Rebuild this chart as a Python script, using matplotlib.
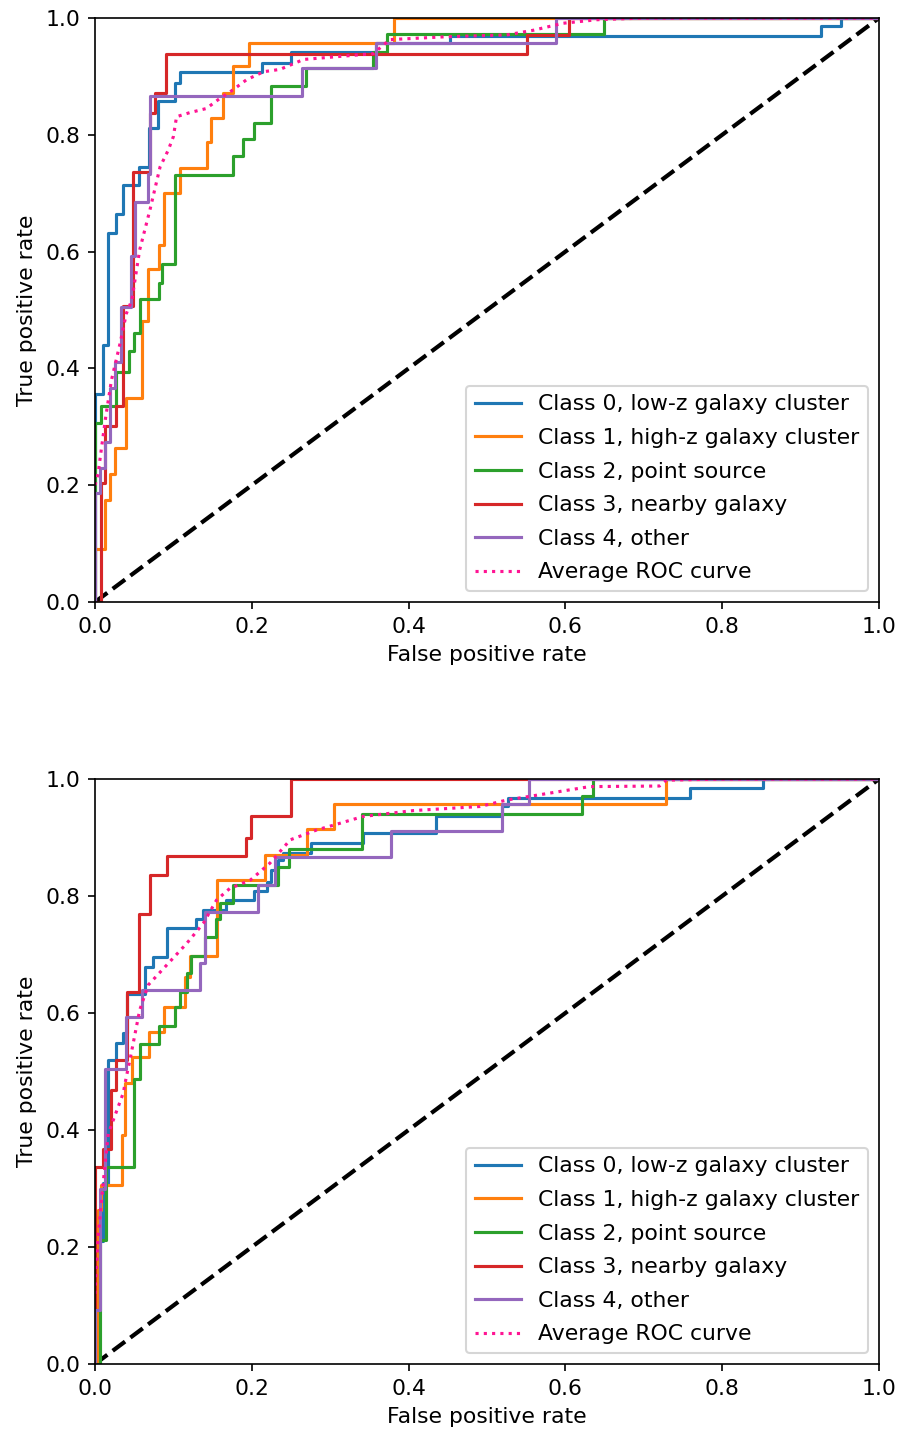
import matplotlib
matplotlib.use('Agg')
import matplotlib.pyplot as plt

plt.rcParams['font.size'] = 10.5

# legend labels and colours of the classes
labels = ['Class 0, low-z galaxy cluster', 'Class 1, high-z galaxy cluster',
          'Class 2, point source', 'Class 3, nearby galaxy', 'Class 4, other']
colors = ['C0', 'C1', 'C2', 'C3', 'C4']

# ---- top panel: ROC corner points (fpr, tpr) ----
top_fpr = [
    [0, 0, 0.010, 0.010, 0.017, 0.017, 0.027, 0.027, 0.036, 0.036, 0.056, 0.056, 0.069, 0.069,
     0.080, 0.080, 0.102, 0.102, 0.108, 0.108, 0.213, 0.213, 0.250, 0.250, 0.359, 0.359,
     0.453, 0.453, 0.926, 0.926, 0.952, 0.952, 1.0],
    [0, 0, 0.013, 0.013, 0.019, 0.019, 0.025, 0.025, 0.040, 0.040, 0.060, 0.060, 0.068, 0.068,
     0.081, 0.081, 0.088, 0.088, 0.108, 0.108, 0.143, 0.143, 0.148, 0.148, 0.163, 0.163,
     0.176, 0.176, 0.197, 0.197, 0.381, 0.381, 1.0],
    [0, 0, 0.008, 0.008, 0.027, 0.027, 0.043, 0.043, 0.050, 0.050, 0.058, 0.058, 0.081, 0.081,
     0.086, 0.086, 0.102, 0.102, 0.176, 0.176, 0.189, 0.189, 0.203, 0.203, 0.225, 0.225,
     0.269, 0.269, 0.355, 0.355, 0.372, 0.372, 0.649, 0.649, 1.0],
    [0, 0.008, 0.008, 0.013, 0.013, 0.027, 0.027, 0.036, 0.036, 0.049, 0.049, 0.070, 0.070,
     0.077, 0.077, 0.091, 0.091, 0.551, 0.551, 0.605, 0.605, 1.0],
    [0, 0, 0.006, 0.006, 0.013, 0.013, 0.019, 0.019, 0.026, 0.026, 0.033, 0.033, 0.046, 0.046,
     0.051, 0.051, 0.068, 0.068, 0.070, 0.070, 0.264, 0.264, 0.358, 0.358, 0.588, 0.588, 1.0],
]
top_tpr = [
    [0, 0.356, 0.356, 0.440, 0.440, 0.631, 0.631, 0.664, 0.664, 0.714, 0.714, 0.745, 0.745, 0.812,
     0.812, 0.858, 0.858, 0.889, 0.889, 0.908, 0.908, 0.923, 0.923, 0.941, 0.941, 0.957,
     0.957, 0.970, 0.970, 0.986, 0.986, 1.0, 1.0],
    [0, 0.090, 0.090, 0.175, 0.175, 0.220, 0.220, 0.263, 0.263, 0.349, 0.349, 0.482, 0.482, 0.571,
     0.571, 0.611, 0.611, 0.700, 0.700, 0.743, 0.743, 0.787, 0.787, 0.828, 0.828, 0.872,
     0.872, 0.917, 0.917, 0.958, 0.958, 1.0, 1.0],
    [0, 0.306, 0.306, 0.336, 0.336, 0.394, 0.394, 0.429, 0.429, 0.460, 0.460, 0.518, 0.518, 0.547,
     0.547, 0.579, 0.579, 0.732, 0.732, 0.763, 0.763, 0.792, 0.792, 0.821, 0.821, 0.884,
     0.884, 0.914, 0.914, 0.942, 0.942, 0.973, 0.973, 1.0, 1.0],
    [0, 0, 0.203, 0.203, 0.301, 0.301, 0.336, 0.336, 0.506, 0.506, 0.737, 0.737, 0.838,
     0.838, 0.871, 0.871, 0.938, 0.938, 0.971, 0.971, 1.0, 1.0],
    [0, 0.186, 0.186, 0.229, 0.229, 0.274, 0.274, 0.366, 0.366, 0.411, 0.411, 0.505, 0.505, 0.592,
     0.592, 0.685, 0.685, 0.733, 0.733, 0.866, 0.866, 0.914, 0.914, 0.958, 0.958, 1.0, 1.0],
]
top_avg_fpr = [0, 0.004, 0.0085, 0.014, 0.021, 0.032, 0.040, 0.047, 0.057, 0.070, 0.083, 0.0935,
               0.100, 0.104, 0.121, 0.142, 0.159, 0.176, 0.193, 0.215, 0.236, 0.266, 0.355,
               0.376, 0.449, 0.525, 0.559, 0.597, 0.640, 0.70, 1.0]
top_avg_tpr = [0.20, 0.22, 0.266, 0.32, 0.38, 0.443, 0.494, 0.517, 0.603, 0.671, 0.745, 0.774,
               0.797, 0.831, 0.838, 0.845, 0.862, 0.877, 0.894, 0.908, 0.912, 0.929, 0.939,
               0.963, 0.968, 0.971, 0.979, 0.991, 0.997, 1.0, 1.0]

# ---- bottom panel ----
bot_fpr = [
    [0, 0.004, 0.004, 0.010, 0.010, 0.017, 0.017, 0.027, 0.027, 0.036, 0.036, 0.041, 0.041,
     0.064, 0.064, 0.0735, 0.0735, 0.0915, 0.0915, 0.129, 0.129, 0.138, 0.138, 0.167, 0.167,
     0.203, 0.203, 0.219, 0.219, 0.225, 0.225, 0.234, 0.234, 0.240, 0.240, 0.276, 0.276,
     0.342, 0.342, 0.435, 0.435, 0.519, 0.519, 0.527, 0.527, 0.759, 0.759, 0.852, 0.852, 1.0],
    [0, 0.004, 0.004, 0.008, 0.008, 0.034, 0.034, 0.038, 0.038, 0.047, 0.047, 0.069, 0.069,
     0.088, 0.088, 0.115, 0.115, 0.121, 0.121, 0.156, 0.156, 0.217, 0.217, 0.271, 0.271,
     0.305, 0.305, 0.728, 0.728, 1.0],
    [0, 0.006, 0.006, 0.014, 0.014, 0.050, 0.050, 0.058, 0.058, 0.081, 0.081, 0.102, 0.102,
     0.108, 0.108, 0.117, 0.117, 0.123, 0.123, 0.140, 0.140, 0.154, 0.154, 0.160, 0.160,
     0.176, 0.176, 0.234, 0.234, 0.248, 0.248, 0.341, 0.341, 0.621, 0.621, 0.635, 0.635, 1.0],
    [0, 0, 0.010, 0.010, 0.021, 0.021, 0.027, 0.027, 0.041, 0.041, 0.0565, 0.0565, 0.070, 0.070,
     0.092, 0.092, 0.193, 0.193, 0.199, 0.199, 0.250, 0.250, 1.0],
    [0, 0, 0.006, 0.006, 0.013, 0.013, 0.040, 0.040, 0.0595, 0.0595, 0.134, 0.134, 0.140, 0.140,
     0.208, 0.208, 0.230, 0.230, 0.378, 0.378, 0.519, 0.519, 0.554, 0.554, 1.0],
]
bot_tpr = [
    [0, 0, 0.210, 0.210, 0.309, 0.309, 0.520, 0.520, 0.549, 0.549, 0.565, 0.565, 0.632,
     0.632, 0.679, 0.679, 0.695, 0.695, 0.745, 0.745, 0.760, 0.760, 0.776, 0.776, 0.793,
     0.793, 0.809, 0.809, 0.824, 0.824, 0.844, 0.844, 0.862, 0.862, 0.874, 0.874, 0.890,
     0.890, 0.907, 0.907, 0.937, 0.937, 0.954, 0.954, 0.967, 0.967, 0.984, 0.984, 1.0, 1.0],
    [0, 0, 0.263, 0.263, 0.306, 0.306, 0.391, 0.391, 0.480, 0.480, 0.525, 0.525, 0.568,
     0.568, 0.611, 0.611, 0.662, 0.662, 0.697, 0.697, 0.827, 0.827, 0.870, 0.870, 0.914,
     0.914, 0.958, 0.958, 1.0, 1.0],
    [0, 0, 0.212, 0.212, 0.336, 0.336, 0.487, 0.487, 0.547, 0.547, 0.578, 0.578, 0.610,
     0.610, 0.636, 0.636, 0.668, 0.668, 0.697, 0.697, 0.730, 0.730, 0.760, 0.760, 0.788,
     0.788, 0.819, 0.819, 0.850, 0.850, 0.881, 0.881, 0.941, 0.941, 0.971, 0.971, 1.0, 1.0],
    [0, 0.336, 0.336, 0.367, 0.367, 0.468, 0.468, 0.520, 0.520, 0.636, 0.636, 0.769, 0.769,
     0.836, 0.836, 0.868, 0.868, 0.900, 0.900, 0.936, 0.936, 1.0, 1.0],
    [0, 0.092, 0.092, 0.300, 0.300, 0.504, 0.504, 0.594, 0.594, 0.639, 0.639, 0.685, 0.685,
     0.773, 0.773, 0.819, 0.819, 0.866, 0.866, 0.911, 0.911, 0.958, 0.958, 1.0, 1.0],
]
bot_avg_fpr = [0, 0.002, 0.004, 0.011, 0.017, 0.028, 0.036, 0.040, 0.0446, 0.057, 0.068, 0.0915,
               0.117, 0.138, 0.155, 0.172, 0.198, 0.223, 0.249, 0.283, 0.304, 0.342, 0.406,
               0.491, 0.525, 0.576, 0.631, 0.72, 0.729, 0.80, 1.0]
bot_avg_tpr = [0.12, 0.172, 0.218, 0.317, 0.394, 0.434, 0.463, 0.491, 0.520, 0.605, 0.648, 0.682,
               0.719, 0.753, 0.793, 0.813, 0.827, 0.856, 0.896, 0.913, 0.921, 0.936, 0.946,
               0.953, 0.964, 0.975, 0.987, 0.988, 0.998, 1.0, 1.0]

fig = plt.figure(figsize=(899 / 150, 1433 / 150), dpi=150)
ax1 = fig.add_axes([95 / 899, 1 - 602 / 1433, 784 / 899, 584 / 1433])
ax2 = fig.add_axes([95 / 899, 1 - 1364 / 1433, 784 / 899, 585 / 1433])

panels = [(ax1, top_fpr, top_tpr, top_avg_fpr, top_avg_tpr),
          (ax2, bot_fpr, bot_tpr, bot_avg_fpr, bot_avg_tpr)]

for ax, fprs, tprs, avg_fpr, avg_tpr in panels:
    ax.plot([0, 1], [0, 1], 'k--', lw=2)
    for i in range(len(labels)):
        ax.plot(fprs[i], tprs[i], color=colors[i], lw=1.5, label=labels[i])
    ax.plot(avg_fpr, avg_tpr, color='deeppink', linestyle=':', lw=1.5,
            label='Average ROC curve')
    ax.set_xlim(0, 1)
    ax.set_ylim(0, 1)
    ax.set_xlabel('False positive rate')
    ax.set_ylabel('True positive rate')
    ax.legend(loc='lower right', labelspacing=0.62, handlelength=2.1)

fig.savefig('out.png', dpi=150)
